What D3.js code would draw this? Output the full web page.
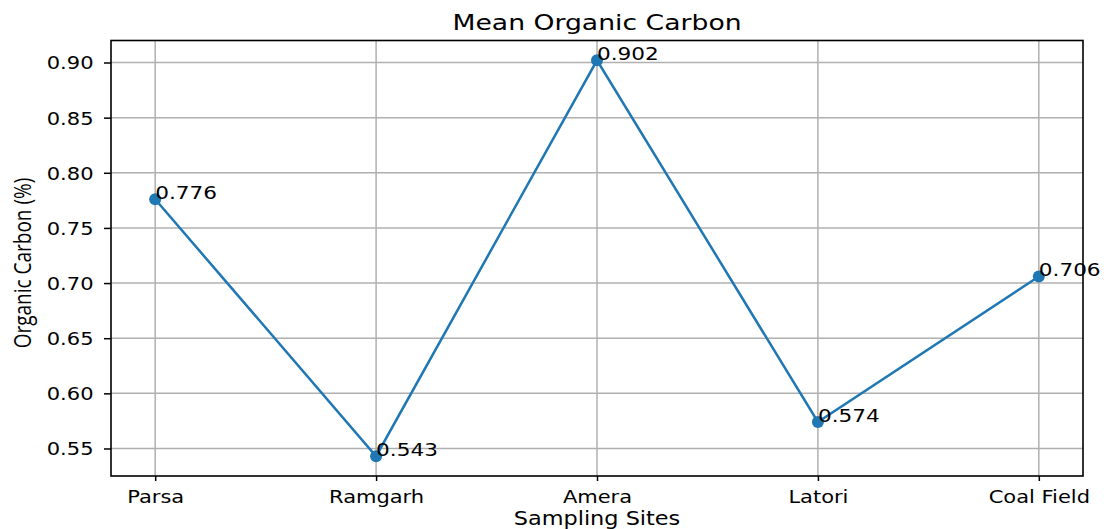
<!DOCTYPE html>
<html>
<head>
<meta charset="utf-8">
<script src="https://cdn.jsdelivr.net/npm/d3@7"></script>
<style>
  body { margin: 0; background: #fff; }
  text { font-family: "DejaVu Sans", sans-serif; fill: #000; }
</style>
</head>
<body>
<div id="chart"></div>
<script>
// data
var sites = ["Parsa", "Ramgarh", "Amera", "Latori", "Coal Field"];
var carbon = [0.776, 0.543, 0.902, 0.574, 0.706];
var yTicks = [0.55, 0.60, 0.65, 0.70, 0.75, 0.80, 0.85, 0.90];

var width = 1104;
var height = 529;
var margin = {top: 40.5, right: 21, bottom: 53, left: 111};
var plotW = width - margin.left - margin.right;
var plotH = height - margin.top - margin.bottom;

// the picture is a bit wider than it is tall, so text gets stretched sideways
var SX = 1.2;

var svg = d3.select("#chart")
    .append("svg")
    .attr("width", width)
    .attr("height", height);

var g = svg.append("g")
    .attr("transform", "translate(" + margin.left + "," + margin.top + ")");

// matplotlib style margins: 5% on y, 0.2 step on x
var yMin = d3.min(carbon), yMax = d3.max(carbon);
var pad = (yMax - yMin) * 0.05;
var y = d3.scaleLinear().domain([yMin - pad, yMax + pad]).range([plotH, 0]);
var x = d3.scalePoint().domain(sites).range([0, plotW]).padding(0.2);

// grid lines
g.append("g").selectAll("line")
    .data(yTicks)
    .enter().append("line")
    .attr("x1", 0).attr("x2", plotW)
    .attr("y1", function(d){ return y(d); })
    .attr("y2", function(d){ return y(d); })
    .attr("stroke", "#b0b0b0").attr("stroke-width", 1.5);

g.append("g").selectAll("line")
    .data(sites)
    .enter().append("line")
    .attr("y1", 0).attr("y2", plotH)
    .attr("x1", function(d){ return x(d); })
    .attr("x2", function(d){ return x(d); })
    .attr("stroke", "#b0b0b0").attr("stroke-width", 1.5);

// the line and markers
var line = d3.line()
    .x(function(d, i){ return x(sites[i]); })
    .y(function(d){ return y(d); });

g.append("path")
    .datum(carbon)
    .attr("d", line)
    .attr("fill", "none")
    .attr("stroke", "#1f77b4")
    .attr("stroke-width", 2.5);

g.selectAll(".dot")
    .data(carbon)
    .enter().append("circle")
    .attr("class", "dot")
    .attr("cx", function(d, i){ return x(sites[i]); })
    .attr("cy", function(d){ return y(d); })
    .attr("r", 6)
    .attr("fill", "#1f77b4");

// axes
var yAxis = g.append("g")
    .call(d3.axisLeft(y).tickValues(yTicks).tickSize(7).tickFormat(d3.format(".2f")));
var xAxis = g.append("g")
    .attr("transform", "translate(0," + plotH + ")")
    .call(d3.axisBottom(x).tickSize(5));

yAxis.select(".domain").remove();
xAxis.select(".domain").remove();
yAxis.selectAll(".tick line").attr("stroke", "#000").attr("stroke-width", 1.5);
xAxis.selectAll(".tick line").attr("stroke", "#000").attr("stroke-width", 1.5);

yAxis.selectAll(".tick text")
    .attr("x", 0).attr("dy", "0.37em")
    .attr("font-size", "17.5px")
    .attr("font-family", "DejaVu Sans")
    .attr("transform", "translate(-17.5,0) scale(" + SX + ",1)");

xAxis.selectAll(".tick text")
    .attr("y", 0).attr("dy", 0)
    .attr("font-size", "17.5px")
    .attr("font-family", "DejaVu Sans")
    .attr("transform", "translate(0,26.5) scale(" + SX + ",1)");

// spines
g.append("rect")
    .attr("width", plotW).attr("height", plotH)
    .attr("fill", "none")
    .attr("stroke", "#000")
    .attr("stroke-width", 1.6);

// value labels next to each point
g.selectAll(".val")
    .data(carbon)
    .enter().append("text")
    .attr("class", "val")
    .attr("font-size", "17px")
    .attr("transform", function(d, i){
        return "translate(" + x(sites[i]) + "," + y(d) + ") scale(1.27,1)";
    })
    .text(function(d){ return d3.format(".3f")(d); });

// title and axis labels
svg.append("text")
    .attr("text-anchor", "middle")
    .attr("font-size", "20.5px")
    .attr("transform", "translate(" + (margin.left + plotW / 2) + ",30) scale(1.3,1)")
    .text("Mean Organic Carbon");

svg.append("text")
    .attr("text-anchor", "middle")
    .attr("font-size", "20px")
    .attr("transform", "translate(" + (margin.left + plotW / 2) + ",525) scale(1.12,1)")
    .text("Sampling Sites");

// y label is drawn taller in the picture than the other text
svg.append("text")
    .attr("text-anchor", "middle")
    .attr("font-size", "19px")
    .style("font-family", "'Open Sans', sans-serif")
    .attr("transform", "translate(31,263) rotate(-90) scale(1.0,1.25)")
    .text("Organic Carbon (%)");
</script>
</body>
</html>
